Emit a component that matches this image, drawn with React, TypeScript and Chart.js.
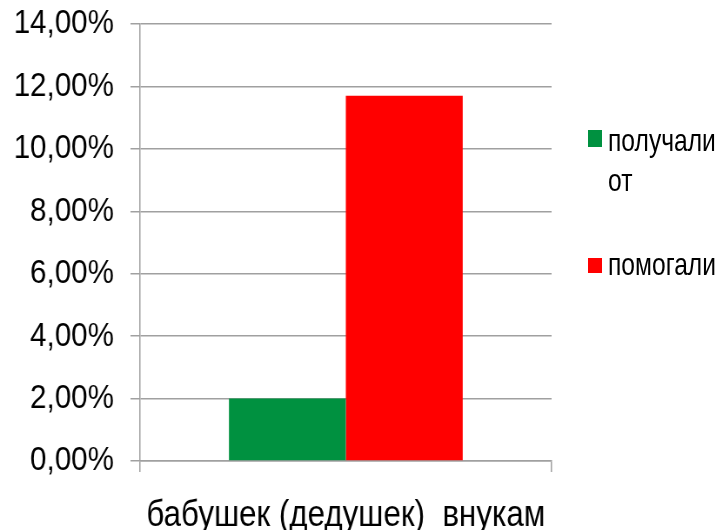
import React, { useEffect, useRef } from "react";
import { Chart, registerables } from "chart.js";

Chart.register(...registerables);

const categories = ["бабушек (дедушек)  внукам"];
const seriesNames = ["получали от", "помогали"];
const legendLines = [["получали", "от"], ["помогали"]];
const receivedValues = [2.0];
const helpedValues = [11.7];
const seriesColors = ["#009140", "#ff0000"];
const yMin = 0;
const yMax = 14;
const yStep = 2;

const FONT = "'Liberation Sans', Arial, sans-serif";
const SX = 0.87; // horizontal condensing of the chart drawing
const W = Math.round(723 / SX);
const H = 530;

export default function App() {
  const ref = useRef<HTMLCanvasElement | null>(null);

  useEffect(() => {
    document.body.style.margin = "0";
    const ctx = ref.current!;
    const chart = new Chart(ctx, {
      type: "bar",
      data: {
        labels: categories,
        datasets: [
          {
            label: seriesNames[0],
            data: receivedValues,
            backgroundColor: seriesColors[0],
            borderWidth: 0,
          },
          {
            label: seriesNames[1],
            data: helpedValues,
            backgroundColor: seriesColors[1],
            borderWidth: 0,
          },
        ],
      },
      options: {
        animation: false,
        responsive: false,
        devicePixelRatio: 1,
        layout: { padding: { left: 0, right: W - Math.round(552 / SX), top: 24, bottom: 0 } },
        plugins: {
          legend: { display: false },
          tooltip: { enabled: false },
        },
        datasets: {
          bar: { categoryPercentage: 0.568, barPercentage: 1.0 },
        },
        scales: {
          x: {
            afterFit: (s: any) => {
              s.height = 69;
              s.paddingLeft = 0;
              s.paddingRight = 0;
            },
            grid: {
              display: true,
              offset: true,
              drawOnChartArea: false,
              drawTicks: true,
              tickLength: 11,
              color: "#a0a0a0",
              lineWidth: 1.5,
            },
            border: { display: true, color: "#a0a0a0", width: 1.5 },
            ticks: {
              color: "#000",
              padding: 22,
              font: { family: FONT, size: 36 },
            },
          },
          y: {
            min: yMin,
            max: yMax,
            afterFit: (s: any) => {
              s.width = Math.round(140 / SX);
              s.paddingTop = 0;
              s.paddingBottom = 0;
            },
            grid: {
              color: "#a0a0a0",
              lineWidth: 1.5,
              drawTicks: true,
              tickLength: 11,
            },
            border: { display: true, color: "#a0a0a0", width: 1.5 },
            ticks: {
              stepSize: yStep,
              color: "#000",
              padding: 19,
              font: { family: FONT, size: 34 },
              callback: (v: any) => Number(v).toFixed(2).replace(".", ",") + "%",
            },
          },
        },
      },
    });
    return () => chart.destroy();
  }, []);

  const textTops = [120, 244];
  const squareBoxes = [
    { top: 130, height: 17 },
    { top: 258, height: 15 },
  ];

  return (
    <div style={{ position: "fixed", left: 0, top: 0, width: 723, height: 530, background: "#fff", overflow: "hidden" }}>
      <div style={{ position: "absolute", left: 0, top: 0, width: W, height: H, transform: `scaleX(${SX})`, transformOrigin: "0 0" }}>
        <canvas ref={ref} width={W} height={H} style={{ width: W, height: H, display: "block" }} />
      </div>
      {legendLines.map((lines, i) => (
        <React.Fragment key={i}>
          <div
            style={{
              position: "absolute",
              left: 588,
              top: squareBoxes[i].top,
              width: 14,
              height: squareBoxes[i].height,
              background: seriesColors[i],
            }}
          />
          <div
            style={{
              position: "absolute",
              left: 608,
              top: textTops[i],
              fontFamily: FONT,
              fontSize: 32,
              lineHeight: "40px",
              color: "#000",
              whiteSpace: "nowrap",
              transform: "scaleX(0.77)",
              transformOrigin: "0 0",
            }}
          >
            {lines.map((l, j) => (
              <div key={j}>{l}</div>
            ))}
          </div>
        </React.Fragment>
      ))}
    </div>
  );
}
